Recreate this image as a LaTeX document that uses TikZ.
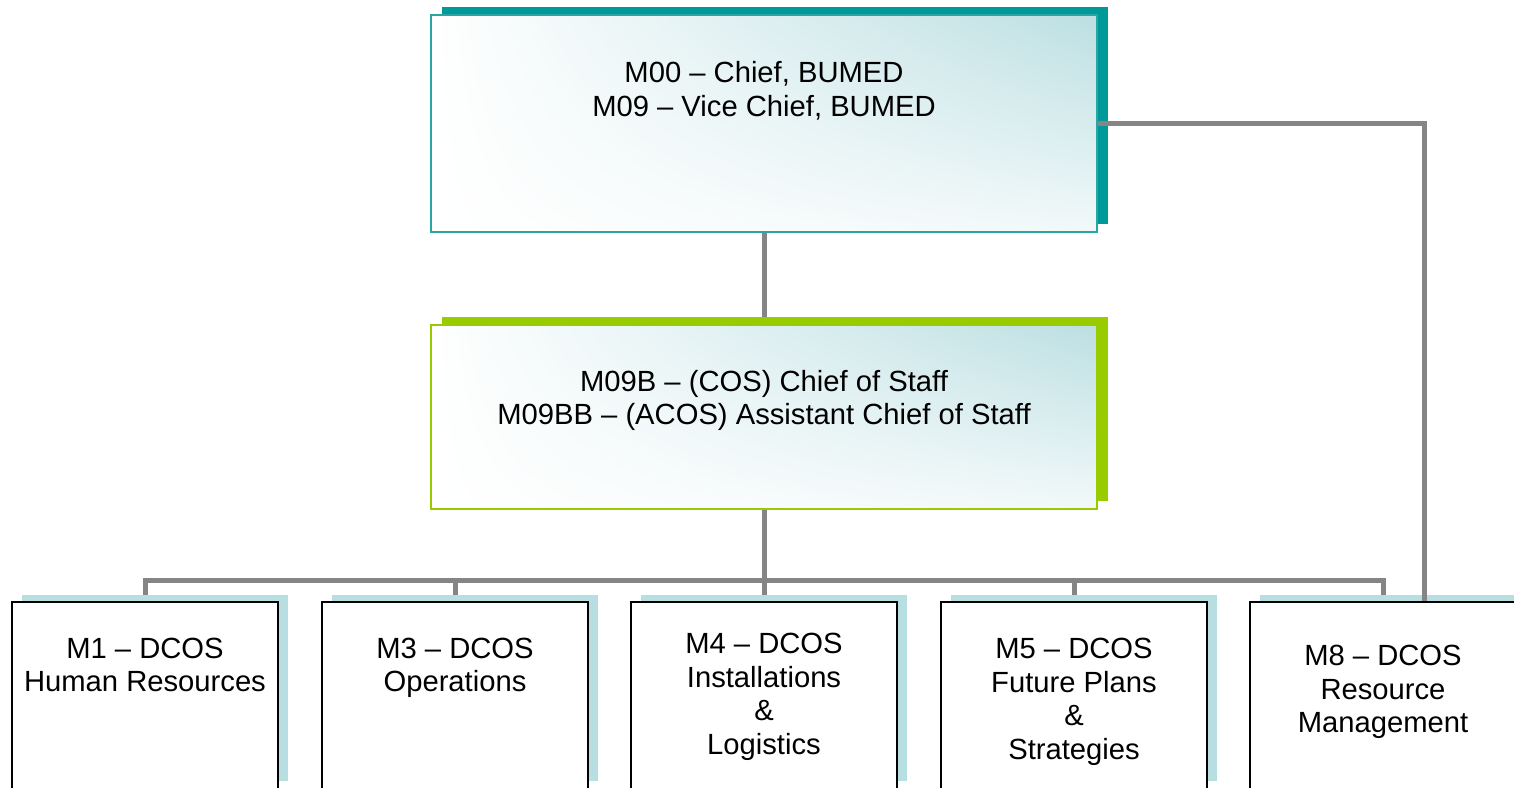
\documentclass[tikz,border=0pt]{standalone}
\usepackage{fontspec}
\setmainfont{Liberation Sans}
\usetikzlibrary{shadings}
\definecolor{tealdark}{HTML}{009999}
\definecolor{tealline}{HTML}{2AA5A5}
\definecolor{limegreen}{HTML}{99CC00}
\definecolor{paleblue}{HTML}{B7DEE0}
\definecolor{gradc}{HTML}{BCDFE2}
\definecolor{conngray}{HTML}{858585}
\begin{document}
\begin{tikzpicture}[x=1pt,y=-1pt,
  boxfill/.style={shade, upper left=white, upper right=gradc, lower left=white, lower right=white!80!gradc},
  bigbox/.style={boxfill, inner sep=0pt, minimum width=666pt},
  shadowbox/.style={inner sep=0pt, draw=none},
  lowbox/.style={draw=black, line width=1.3pt, fill=white, inner sep=0pt, minimum width=266pt, minimum height=200pt},
  lowshadow/.style={shadowbox, fill=paleblue, minimum width=266pt, minimum height=186pt},
  txt/.style={align=center, inner sep=0pt, font=\fontsize{29.2}{33.6}\selectfont},
  conn/.style={draw=conngray, line width=5pt}
]
\useasboundingbox (0,0) rectangle (1514,787);

% top box
\node[shadowbox, fill=tealdark, minimum width=666pt, minimum height=217pt] (chiefsh) at (775,115.5) {};
\node[bigbox, draw=tealline, line width=1.5pt, minimum height=217pt] (chief) at (764,123.5) {};
\node[txt] (chieft) at (764,90.5) {M00 -- Chief, BUMED\\M09 -- Vice Chief, BUMED};

% middle box
\node[shadowbox, fill=limegreen, minimum width=666pt, minimum height=184pt] (cossh) at (775,409) {};
\node[bigbox, draw=limegreen, line width=1.5pt, minimum height=184pt] (cos) at (764,417) {};
\node[txt] (cost) at (764,400.5) {M09B -- (COS) Chief of Staff\\M09BB -- (ACOS) Assistant Chief of Staff};

% lower boxes
\node[lowshadow] (m1sh) at (155,688) {};
\node[lowbox] (m1) at (145,702) {};
\node[txt] (m1t) at (145,665) {M1 -- DCOS\\Human Resources};

\node[lowshadow] (m3sh) at (465,688) {};
\node[lowbox] (m3) at (455,702) {};
\node[txt] (m3t) at (455,668) {M3 -- DCOS\\Operations};

\node[lowshadow] (m4sh) at (774,688) {};
\node[lowbox] (m4) at (764,702) {};
\node[txt] (m4t) at (764,697) {M4 -- DCOS\\Installations\\\&\\Logistics};

\node[lowshadow] (m5sh) at (1084,688) {};
\node[lowbox] (m5) at (1074,702) {};
\node[txt] (m5t) at (1074,702) {M5 -- DCOS\\Future Plans\\\&\\Strategies};

\node[lowshadow] (m8sh) at (1393,688) {};
\node[lowbox] (m8) at (1383,702) {};
\node[txt] (m8t) at (1383,692) {M8 -- DCOS\\Resource\\Management};

% connectors
\coordinate (bus) at (764,580);
\coordinate (rc) at (1424,123.5);
\draw[conn] (chief.south) -- (chief.south |- cossh.north);
\draw[conn] (cos.south) -- (bus);
\draw[conn] (m1.north |- m1sh.north) |- (m8.north |- bus) -- (m8.north |- m8sh.north);
\draw[conn] (m3.north |- bus) -- (m3.north |- m3sh.north);
\draw[conn] (bus) -- (m4.north |- m4sh.north);
\draw[conn] (m5.north |- bus) -- (m5.north |- m5sh.north);
\draw[conn] (chief.east) -- (rc) -- (rc |- m8.north);
\end{tikzpicture}
\end{document}
